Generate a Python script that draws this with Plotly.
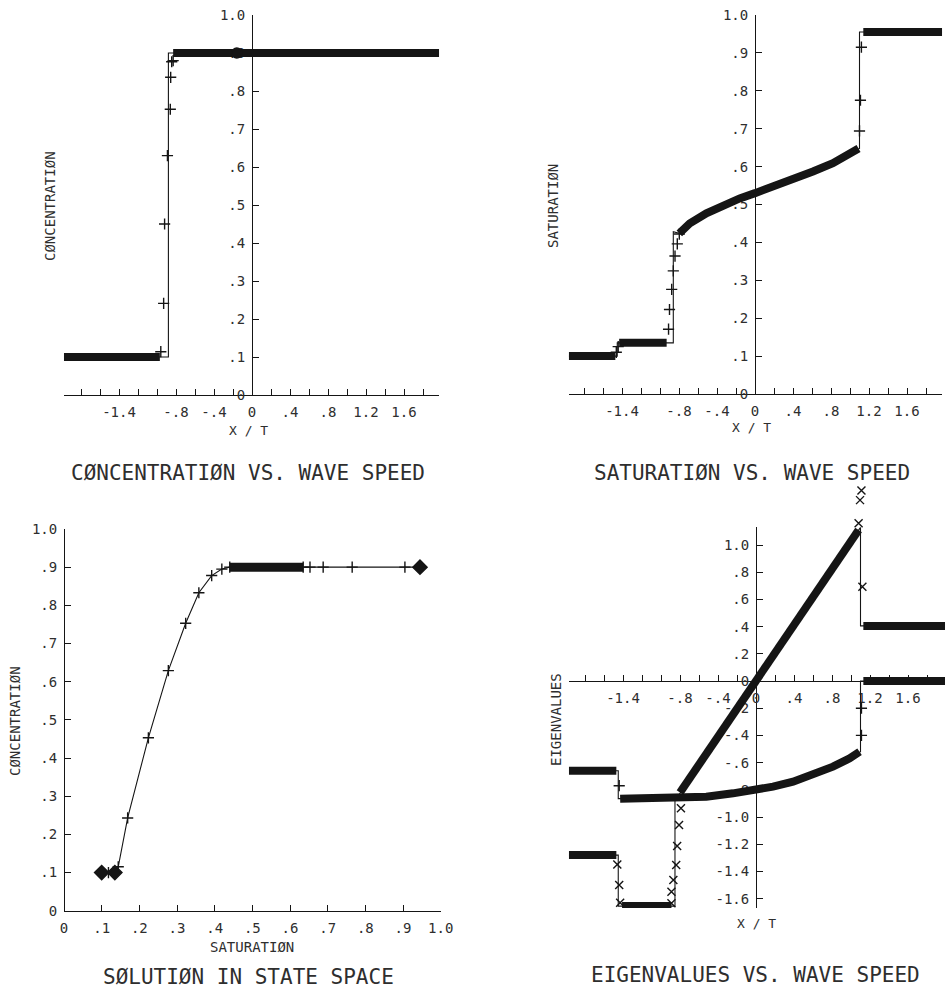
import plotly.graph_objects as go

# ---------------- DATA ----------------
# Panel 1: concentration vs wave speed
conc_exact_x = [-1.98, -0.88, -0.88, 1.97]
conc_exact_y = [0.1, 0.1, 0.9, 0.9]
conc_band_x = [-1.98, -0.97, None, -0.83, 1.97]
conc_band_y = [0.1, 0.1, None, 0.9, 0.9]
conc_pts_x = [-0.96, -0.93, -0.92, -0.89, -0.86, -0.856, -0.845, -0.83]
conc_pts_y = [0.114, 0.241, 0.45, 0.63, 0.752, 0.836, 0.877, 0.88]
conc_blob_x = [-0.16]
conc_blob_y = [0.9]

# Panel 2: saturation vs wave speed
sat_curve_x = [-0.797, -0.687, -0.512, -0.302, -0.161, 0.0, 0.19, 0.40, 0.61, 0.82, 0.997, 1.09]
sat_curve_y = [0.424, 0.450, 0.477, 0.503, 0.516, 0.530, 0.547, 0.565, 0.587, 0.609, 0.635, 0.648]
sat_exact_x = [-1.96, -1.45, -1.45, -0.86, -0.86] + sat_curve_x + [1.10, 1.10, 1.97]
sat_exact_y = [0.1, 0.1, 0.135, 0.135, 0.428] + sat_curve_y + [0.648, 0.955, 0.955]
sat_band_x = [-1.96, -1.47, None, -1.43, -0.93, None] + sat_curve_x + [None, 1.14, 1.97]
sat_band_y = [0.1, 0.1, None, 0.135, 0.135, None] + sat_curve_y + [None, 0.955, 0.955]
sat_pts_x = [-1.46, -1.44, -0.91, -0.90, -0.877, -0.86, -0.842, -0.818, -0.797, 1.10, 1.11, 1.12]
sat_pts_y = [0.11, 0.125, 0.171, 0.223, 0.276, 0.325, 0.364, 0.396, 0.422, 0.694, 0.775, 0.915]

# Panel 3: solution in state space
state_x = [0.10, 0.118, 0.135, 0.144, 0.169, 0.224, 0.277, 0.323, 0.358, 0.392, 0.419, 0.44,
           0.635, 0.653, 0.688, 0.765, 0.905, 0.945]
state_y = [0.1, 0.1, 0.1, 0.115, 0.243, 0.453, 0.629, 0.753, 0.833, 0.878, 0.895, 0.9,
           0.9, 0.9, 0.9, 0.9, 0.9, 0.9]
state_band_x = [0.44, 0.635]
state_band_y = [0.9, 0.9]
state_blob_x = [0.10, 0.135, 0.945]
state_blob_y = [0.1, 0.1, 0.9]

# Panel 4: eigenvalues vs wave speed
eig1_curve_x = [-1.43, -0.839, -0.523, -0.242, 0.0, 0.179, 0.39, 0.60, 0.81, 0.986, 1.09]
eig1_curve_y = [-0.865, -0.865, -0.851, -0.826, -0.80, -0.777, -0.740, -0.691, -0.63, -0.569, -0.52]
eig1_exact_x = [-1.97, -1.45, -1.45] + eig1_curve_x + [1.10, 1.10, 1.99]
eig1_exact_y = [-0.66, -0.66, -0.865] + eig1_curve_y + [-0.52, 0.0, 0.0]
eig1_band_x = [-1.97, -1.47, None] + eig1_curve_x + [None, 1.13, 1.99]
eig1_band_y = [-0.66, -0.66, None] + eig1_curve_y + [None, 0.0, 0.0]
eig1_pts_x = [-1.44, 1.11, 1.11]
eig1_pts_y = [-0.77, -0.40, -0.20]

eig2_exact_x = [-1.97, -1.45, -1.45, -0.853, -0.853, 0.0, 1.10, 1.10, 1.99]
eig2_exact_y = [-1.28, -1.28, -1.655, -1.655, -0.88, 0.0, 1.13, 0.405, 0.405]
eig2_band_x = [-1.97, -1.47, None, -1.41, -0.89, None, -0.80, 1.08, None, 1.13, 1.99]
eig2_band_y = [-1.28, -1.28, None, -1.655, -1.655, None, -0.82, 1.11, None, 0.405, 0.405]
eig2_pts_x = [-1.46, -1.44, -1.43, -0.89, -0.89, -0.87, -0.84, -0.83, -0.81, -0.79, 1.12]
eig2_pts_y = [-1.35, -1.50, -1.63, -1.635, -1.549, -1.463, -1.353, -1.213, -1.059, -0.936, 0.693]
eig2_top_x = [1.08, 1.095, 1.11]      # markers that rise above the axis top
eig2_top_y = [1.16, 1.33, 1.40]

# Tick labels
wave_tickvals = [-1.4, -0.8, -0.4, 0.0, 0.4, 0.8, 1.2, 1.6]
wave_ticktext = ["-1.4", "-.8", "-.4", "0", ".4", ".8", "1.2", "1.6"]
wave_minor = [-1.8, -1.6, -1.4, -1.2, -1.0, -0.8, -0.6, -0.4, -0.2, 0.2, 0.4, 0.6, 0.8,
              1.0, 1.2, 1.4, 1.6, 1.8]
unit_tickvals = [0.0, 0.1, 0.2, 0.3, 0.4, 0.5, 0.6, 0.7, 0.8, 0.9, 1.0]
unit_ticktext = ["0", ".1", ".2", ".3", ".4", ".5", ".6", ".7", ".8", ".9", "1.0"]
eig_tickvals = [-1.6, -1.4, -1.2, -1.0, -0.8, -0.6, -0.4, -0.2, 0.0, 0.2, 0.4, 0.6, 0.8, 1.0]
eig_ticktext = ["-1.6", "-1.4", "-1.2", "-1.0", "-.8", "-.6", "-.4", "-.2", "0",
                ".2", ".4", ".6", ".8", "1.0"]

# ---------------- LAYOUT HELPERS ----------------
W, H = 946, 991
FONT = "DejaVu Sans Mono"
INK = "#151515"
TXT = "#2e2e2e"


def fx(px):
    return px / W


def fy(py):
    return 1 - py / H


def clamp_range(x0, xs, xr):
    lo = max(xr[0], (0 - x0) / xs)
    hi = min(xr[1], (W - x0) / xs)
    return [lo, hi]


# panel geometry: (x0 pixel, px per unit, x range, y0 pixel, px per unit, y range)
panels = {
    1: (252, 95, [-1.98, 1.97], 395, 380, [0, 1.0]),
    2: (755, 95, [-1.96, 1.97], 394, 379, [0, 1.0]),
    3: (64, 376.7, [0, 1.0], 910.7, 381.7, [0, 1.0]),
    4: (756, 95, [-1.97, 1.99], 681, 136, [-1.67, 1.13]),
}

fig = go.Figure()
layout = dict(width=W, height=H,
              margin=dict(l=0, r=0, t=0, b=0, pad=0, autoexpand=False),
              paper_bgcolor="white", plot_bgcolor="rgba(0,0,0,0)", showlegend=False)

axis_common = dict(showgrid=False, zeroline=False, showline=True, linecolor=INK, linewidth=1,
                   ticks="inside", ticklen=6, tickwidth=1, tickcolor=INK,
                   tickfont=dict(family=FONT, size=14, color=TXT), tickmode="array",
                   anchor="free", layer="below traces", ticklabelstandoff=4,
                   automargin=False)

for i, (x0, xs, xr, y0, ys, yr) in panels.items():
    xr = clamp_range(x0, xs, xr)
    xd = [fx(x0 + xs * xr[0]), fx(x0 + xs * xr[1])]
    yd = [fy(y0 - ys * yr[0]), fy(y0 - ys * yr[1])]
    sfx = "" if i == 1 else str(i)
    if i == 3:
        xa = dict(axis_common, domain=xd, range=xr, position=fy(y0),
                  tickvals=unit_tickvals, ticktext=unit_ticktext)
        ya = dict(axis_common, domain=yd, range=yr, position=fx(x0),
                  tickvals=unit_tickvals, ticktext=unit_ticktext)
    else:
        xa = dict(axis_common, domain=xd, range=xr, position=fy(y0),
                  tickvals=wave_tickvals, ticktext=wave_ticktext,
                  minor=dict(tickmode="array", tickvals=wave_minor, ticks="inside",
                             ticklen=6, tickcolor=INK, showgrid=False))
        ya = dict(axis_common, domain=yd, range=yr, position=fx(x0),
                  tickvals=eig_tickvals if i == 4 else unit_tickvals,
                  ticktext=eig_ticktext if i == 4 else unit_ticktext)
    layout["xaxis" + sfx] = xa
    layout["yaxis" + sfx] = ya

# hidden companion axes for panel 4, same scale, taller, for the markers above its top
x0, xs, xr, y0, ys, yr = panels[4]
xr = clamp_range(x0, xs, xr)
top_range = [yr[0], 1.5]
layout["xaxis5"] = dict(visible=False, anchor="free", position=0, automargin=False,
                        domain=[fx(x0 + xs * xr[0]), fx(x0 + xs * xr[1])], range=xr)
layout["yaxis5"] = dict(visible=False, anchor="free", position=0, automargin=False,
                        domain=[fy(y0 - ys * top_range[0]), fy(y0 - ys * top_range[1])],
                        range=top_range)


def ax(i):
    return ("x", "y") if i == 1 else ("x" + str(i), "y" + str(i))


def add_exact(x, y, i, width=1.1):
    xa, ya = ax(i)
    fig.add_trace(go.Scatter(x=x, y=y, mode="lines", line=dict(color=INK, width=width),
                             xaxis=xa, yaxis=ya, hoverinfo="skip"))


def add_band(x, y, i, width=8):
    xa, ya = ax(i)
    fig.add_trace(go.Scatter(x=x, y=y, mode="lines", connectgaps=False,
                             line=dict(color=INK, width=width),
                             xaxis=xa, yaxis=ya, hoverinfo="skip"))


def add_pts(x, y, i, symbol="cross-thin", size=8, clip=True):
    xa, ya = ax(i)
    fig.add_trace(go.Scatter(x=x, y=y, mode="markers", cliponaxis=clip,
                             marker=dict(symbol=symbol, size=size, color=INK,
                                         line=dict(width=1.4, color=INK)),
                             xaxis=xa, yaxis=ya, hoverinfo="skip"))


# Panel 1
add_exact(conc_exact_x, conc_exact_y, 1)
add_band(conc_band_x, conc_band_y, 1)
add_pts(conc_pts_x, conc_pts_y, 1)
add_pts(conc_blob_x, conc_blob_y, 1, symbol="circle", size=10)

# Panel 2
add_exact(sat_exact_x, sat_exact_y, 2)
add_band(sat_band_x, sat_band_y, 2)
add_pts(sat_pts_x, sat_pts_y, 2)

# Panel 3
add_exact(state_x, state_y, 3)
add_band(state_band_x, state_band_y, 3, width=9)
add_pts(state_x, state_y, 3)
add_pts(state_blob_x, state_blob_y, 3, symbol="diamond", size=11, clip=False)

# Panel 4
add_exact(eig1_exact_x, eig1_exact_y, 4)
add_exact(eig2_exact_x, eig2_exact_y, 4)
add_band(eig1_band_x, eig1_band_y, 4)
add_band(eig2_band_x, eig2_band_y, 4, width=8)
add_pts(eig1_pts_x, eig1_pts_y, 4)
add_pts(eig2_pts_x, eig2_pts_y, 4, symbol="x-thin", size=8, clip=False)
add_pts(eig2_top_x, eig2_top_y, 5, symbol="x-thin", size=8, clip=False)

# ---------------- TEXT ----------------
ann = []


def text(s, px, py, size, angle=0):
    ann.append(dict(text=s, x=fx(px), y=fy(py), xref="paper", yref="paper",
                    showarrow=False, textangle=angle, xanchor="center", yanchor="middle",
                    font=dict(family=FONT, size=size, color=TXT)))


text("CØNCENTRATIØN VS. WAVE SPEED", 248, 473, 21)
text("SATURATIØN VS. WAVE SPEED", 752, 473, 21)
text("SØLUTIØN IN STATE SPACE", 249, 977, 21)
text("EIGENVALUES VS. WAVE SPEED", 755, 975, 21)

text("X / T", 248, 430, 13)
text("X / T", 751, 428, 13)
text("SATURATIØN", 252, 947, 14)
text("X / T", 756, 923, 13)

text("CØNCENTRATIØN", 50, 206, 14, -90)
text("SATURATIØN", 553, 206, 14, -90)
text("CØNCENTRATIØN", 15, 721, 14, -90)
text("EIGENVALUES", 556, 720, 14, -90)

layout["annotations"] = ann
fig.update_layout(**layout)
fig.write_html("out.html",
               config={"displayModeBar": False},
               post_script="document.body.style.margin='0';"
                           "document.body.style.overflow='hidden';")
